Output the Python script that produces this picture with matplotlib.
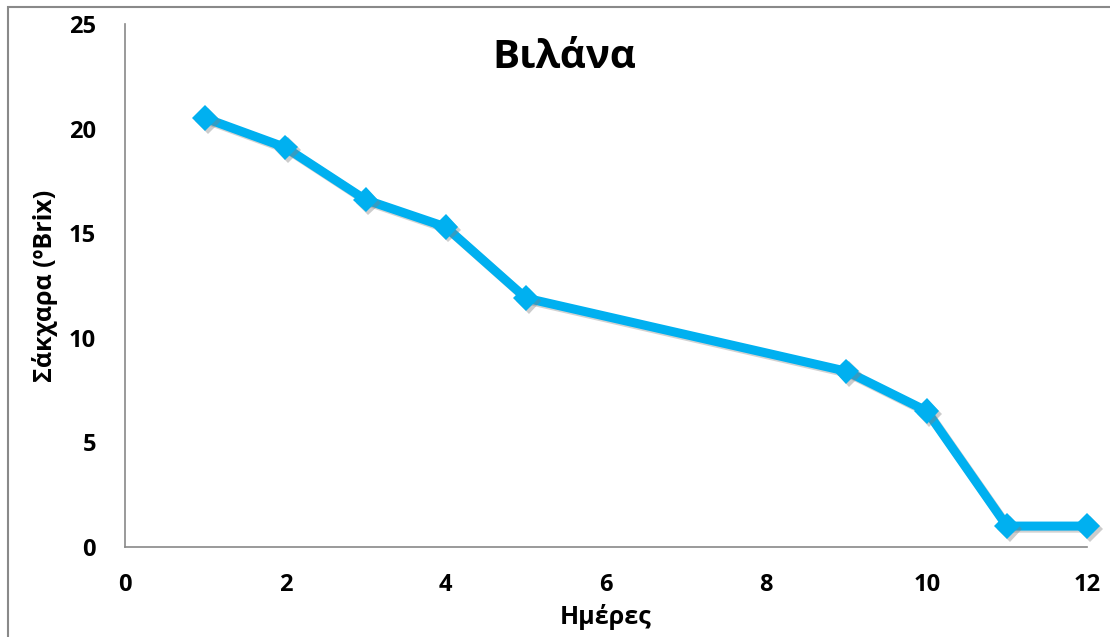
import matplotlib.pyplot as plt
import matplotlib.patheffects as pe
from matplotlib.patches import Rectangle

plt.rcParams['font.family'] = ['Open Sans', 'DejaVu Sans']
plt.rcParams['font.weight'] = 'bold'

days = [1, 2, 3, 4, 5, 9, 10, 11, 12]
brix = [20.5, 19.1, 16.6, 15.3, 11.9, 8.4, 6.5, 1.0, 1.0]
x_ticks = [0, 2, 4, 6, 8, 10, 12]
y_ticks = [0, 5, 10, 15, 20, 25]

blue = "#00B0F0"
grey = "#898989"

fig = plt.figure(figsize=(11.1, 6.37), dpi=100)
ax = fig.add_axes([125 / 1110, 1 - 547 / 637, (1087 - 125) / 1110, (547 - 24) / 637])

# line with a soft shadow, then diamond markers on top
ax.plot(days, brix, color=blue, linewidth=6.5, solid_joinstyle="miter", clip_on=False,
        path_effects=[pe.SimpleLineShadow(offset=(1.5, -1.5), shadow_color="gray", alpha=0.35),
                      pe.Normal()], zorder=3)
ax.plot(days, brix, linestyle="none", marker="D", markersize=13, color=blue,
        markeredgewidth=0, clip_on=False,
        path_effects=[pe.SimplePatchShadow(offset=(2, -2), shadow_rgbFace="gray", alpha=0.4),
                      pe.Normal()], zorder=4)

ax.set_xlim(0, 12)
ax.set_ylim(0, 25)
ax.set_xticks(x_ticks)
ax.set_yticks(y_ticks)
ax.tick_params(length=0, labelsize=17, pad=19)
ax.tick_params(axis="y", pad=21)
for s in ["top", "right"]:
    ax.spines[s].set_visible(False)
for s in ["left", "bottom"]:
    ax.spines[s].set_color(grey)
    ax.spines[s].set_linewidth(1.2)

ax.set_xlabel("Ημέρες", fontsize=18, fontweight="bold", labelpad=5)
ax.set_ylabel("Σάκχαρα (ºBrix)", fontsize=18, fontweight="bold", labelpad=8)
fig.text(564 / 1110, 1 - 58 / 637, "Βιλάνα", fontsize=29, fontweight="bold",
         ha="center", va="center")

# chart area border
fig.patches.append(Rectangle((8 / 1110, -0.1), 1.2, 1.1 - 7 / 637, transform=fig.transFigure,
                             fill=False, edgecolor=grey, linewidth=1.5))

fig.savefig("out.png", dpi=100)
